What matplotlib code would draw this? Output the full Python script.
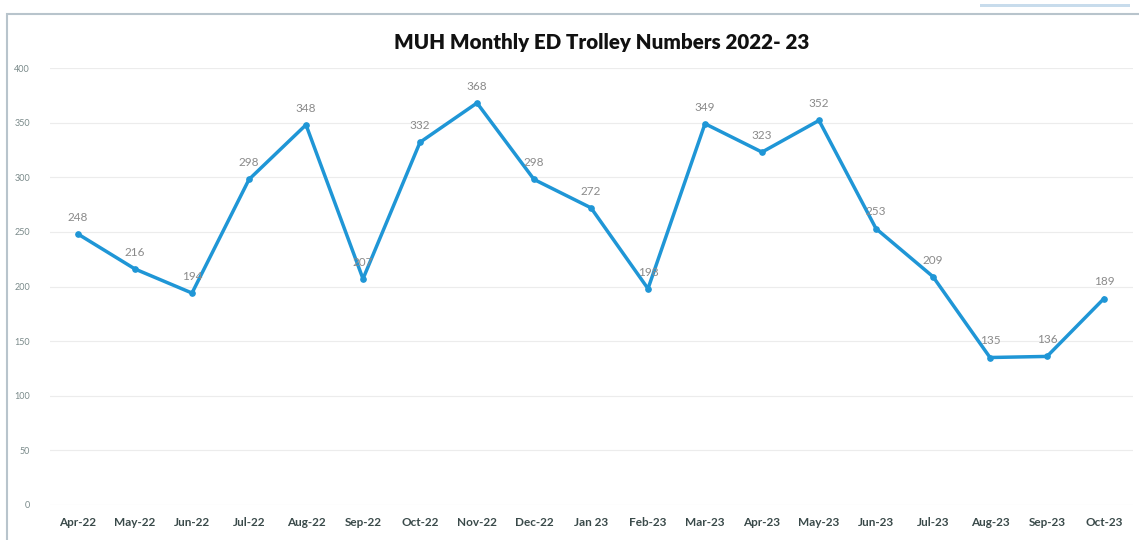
import matplotlib
matplotlib.use("Agg")
import matplotlib.pyplot as plt
from matplotlib.patches import Rectangle

months = ["Apr-22", "May-22", "Jun-22", "Jul-22", "Aug-22", "Sep-22", "Oct-22",
          "Nov-22", "Dec-22", "Jan 23", "Feb-23", "Mar-23", "Apr-23", "May-23",
          "Jun-23", "Jul-23", "Aug-23", "Sep-23", "Oct-23"]
trolleys = [248, 216, 194, 298, 348, 207, 332, 368, 298, 272, 198, 349, 323,
            352, 253, 209, 135, 136, 189]
y_ticks = [0, 50, 100, 150, 200, 250, 300, 350, 400]
title = "MUH Monthly ED Trolley Numbers 2022- 23"

W, H = 1139, 540
fig = plt.figure(figsize=(W / 100, H / 100), dpi=100)
fig.patch.set_facecolor("white")

# axes position in pixels
left_px, right_px = 49.5, 1132.5
top_px, bottom_px = 68, 505
ax = fig.add_axes([left_px / W, 1 - bottom_px / H, (right_px - left_px) / W,
                   (bottom_px - top_px) / H])

x = list(range(len(months)))
ax.plot(x, trolleys, color="#1f96d6", lw=2.5, marker="o", ms=3.8,
        solid_joinstyle="round", zorder=3)
for xi, v in zip(x, trolleys):
    ax.annotate(str(v), (xi, v), xytext=(0, 8), textcoords="offset points",
                ha="center", va="bottom", fontsize=8.5, color="#8a8a8a",
                family="Lato")

ax.set_xlim(-0.5, len(months) - 0.5)
ax.set_ylim(0, 400)
ax.set_yticks(y_ticks)
ax.set_yticklabels([str(t) for t in y_ticks], fontsize=6.5, color="#7a8a8a",
                   family="Lato")
ax.set_xticks(x)
ax.set_xticklabels(months, fontsize=8.5, color="#3a4a4a", family="Lato",
                   fontweight="bold")
ax.tick_params(axis="both", length=0)
ax.tick_params(axis="y", pad=14)
ax.tick_params(axis="x", pad=9)
ax.grid(axis="y", color="#ececec", lw=0.8)
ax.set_axisbelow(True)
for s in ax.spines.values():
    s.set_visible(False)

fig.text(602 / W, 1 - 43 / H, title, ha="center", va="center", fontsize=14.8,
         fontweight="heavy", family="Lato", color="#111111")

# outer chart frame
fig.patches.append(Rectangle((7 / W, -0.01), 1.2, 1 - 14 / H + 0.01,
                             transform=fig.transFigure, fill=False,
                             edgecolor="#b8c4cc", lw=1.5))
fig.patches.append(Rectangle((980 / W, 1 - 7 / H), 150 / W, 3 / H,
                             transform=fig.transFigure, color="#c8dcec", lw=0))

fig.savefig("out.png", dpi=100)
